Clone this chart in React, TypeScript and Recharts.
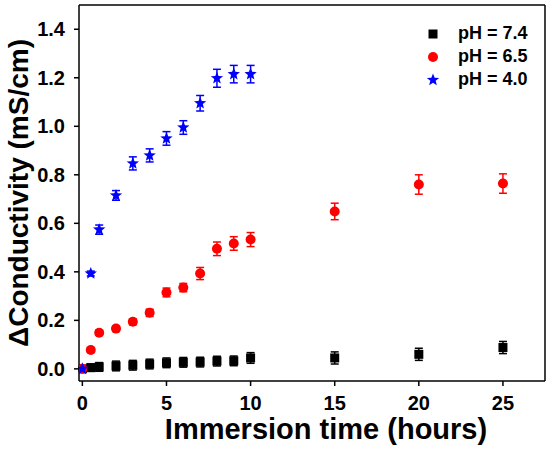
import React from 'react';
import { ScatterChart, Scatter, XAxis, YAxis, ErrorBar, Legend } from 'recharts';

const FONT = '"Liberation Sans", Arial, sans-serif';

// immersion times (hours)
const hours = [0, 0.5, 1, 2, 3, 4, 5, 6, 7, 8, 9, 10, 15, 20, 25];
const hoursAcid = [0, 0.5, 1, 2, 3, 4, 5, 6, 7, 8, 9, 10];

// delta conductivity (mS/cm) and error
const ph74 = [0, 0.005, 0.008, 0.012, 0.015, 0.02, 0.025, 0.027, 0.028, 0.032, 0.033, 0.045, 0.045, 0.06, 0.088];
const ph74Err = [0.01, 0.015, 0.018, 0.02, 0.02, 0.02, 0.02, 0.02, 0.02, 0.02, 0.02, 0.022, 0.025, 0.025, 0.025];
const ph65 = [0, 0.078, 0.149, 0.166, 0.194, 0.231, 0.315, 0.335, 0.393, 0.495, 0.517, 0.533, 0.649, 0.76, 0.764];
const ph65Err = [0.005, 0.01, 0.01, 0.01, 0.012, 0.015, 0.018, 0.017, 0.025, 0.028, 0.028, 0.029, 0.034, 0.04, 0.04];
const ph40 = [0, 0.393, 0.574, 0.715, 0.847, 0.88, 0.95, 0.995, 1.095, 1.198, 1.215, 1.215];
const ph40Err = [0.005, 0.01, 0.019, 0.02, 0.027, 0.027, 0.028, 0.028, 0.032, 0.037, 0.036, 0.036];

const xTicks = [0, 5, 10, 15, 20, 25];
const xMinorTicks = [2.5, 7.5, 12.5, 17.5, 22.5];
const yTicks = [0, 0.2, 0.4, 0.6, 0.8, 1.0, 1.2, 1.4];
const yMinorTicks = [0.1, 0.3, 0.5, 0.7, 0.9, 1.1, 1.3];
const frameMajor = [2, 4, 6, 8];
const frameMinor = [1, 3, 5, 7, 9];

const toPoints = (xs: number[], ys: number[], errs: number[]) =>
  xs.map((x, i) => ({ x, y: ys[i], err: errs[i] }));

const series = [
  { name: 'pH = 7.4', kind: 'square', color: '#000000', data: toPoints(hours, ph74, ph74Err) },
  { name: 'pH = 6.5', kind: 'circle', color: '#ff0000', data: toPoints(hours, ph65, ph65Err) },
  { name: 'pH = 4.0', kind: 'star', color: '#0000ff', data: toPoints(hoursAcid, ph40, ph40Err) },
];

const Marker = ({ kind, cx, cy, color }: { kind: string; cx: number; cy: number; color: string }) => {
  if (kind === 'square') return <rect x={cx - 4.5} y={cy - 4.5} width={9} height={9} fill={color} />;
  if (kind === 'circle') return <circle cx={cx} cy={cy} r={5} fill={color} />;
  const pts: string[] = [];
  for (let i = 0; i < 10; i++) {
    const r = i % 2 === 0 ? 6.5 : 2.8;
    const a = -Math.PI / 2 + (i * Math.PI) / 5;
    pts.push(`${cx + r * Math.cos(a)},${cy + r * Math.sin(a)}`);
  }
  return <polygon points={pts.join(' ')} fill={color} />;
};

const renderLegend = () => (
  <div style={{ fontFamily: FONT, fontWeight: 'bold', fontSize: 18, color: '#000' }}>
    {series.map((s) => (
      <div key={s.name} style={{ display: 'flex', alignItems: 'center', height: 23 }}>
        <svg width={16} height={16}>
          <Marker kind={s.kind} cx={8} cy={8} color={s.color} />
        </svg>
        <span style={{ marginLeft: 17 }}>{s.name}</span>
      </div>
    ))}
  </div>
);

const line = { stroke: '#000', strokeWidth: 1.5 };
const tickFont = { fill: '#000', fontSize: 20, fontWeight: 'bold', fontFamily: FONT };

const App = () => (
  <div style={{ position: 'absolute', left: 0, top: 0, width: 550, height: 449, background: '#fff' }}>
    <ScatterChart width={550} height={449} margin={{ top: 5, right: 5, left: 0, bottom: 0 }}>
      {/* minor ticks and the top/right frame */}
      <XAxis xAxisId="xm" type="number" domain={[-0.2, 27.5]} ticks={xMinorTicks} allowDataOverflow
        height={1} tick={false} tickSize={3} tickLine={line} axisLine={false} />
      <YAxis yAxisId="ym" type="number" domain={[-0.05, 1.5]} ticks={yMinorTicks} allowDataOverflow
        width={1} tick={false} tickSize={3} tickLine={line} axisLine={false} />
      <XAxis xAxisId="top1" orientation="top" mirror type="number" domain={[0, 10]} ticks={frameMajor}
        height={1} tick={false} tickSize={6} tickLine={line} axisLine={line} />
      <XAxis xAxisId="top2" orientation="top" mirror type="number" domain={[0, 10]} ticks={frameMinor}
        height={1} tick={false} tickSize={3} tickLine={line} axisLine={false} />
      <YAxis yAxisId="right1" orientation="right" mirror type="number" domain={[0, 10]} ticks={frameMajor}
        width={1} tick={false} tickSize={6} tickLine={line} axisLine={line} />
      <YAxis yAxisId="right2" orientation="right" mirror type="number" domain={[0, 10]} ticks={frameMinor}
        width={1} tick={false} tickSize={3} tickLine={line} axisLine={false} />

      <XAxis dataKey="x" type="number" domain={[-0.2, 27.5]} ticks={xTicks} allowDataOverflow
        height={67} tickSize={5} tickMargin={10} tick={tickFont} tickLine={line} axisLine={line}
        label={{ value: 'Immersion time (hours)', position: 'insideBottom', offset: 9, dx: 14,
          style: { fill: '#000', fontSize: 29, fontWeight: 'bold', fontFamily: FONT } }} />
      <YAxis dataKey="y" type="number" domain={[-0.05, 1.5]} ticks={yTicks} allowDataOverflow
        width={78} tickSize={5} tickMargin={9} tick={tickFont} tickLine={line} axisLine={line}
        tickFormatter={(v: number) => v.toFixed(1)}
        label={{ value: 'ΔConductivity (mS/cm)', angle: -90, position: 'insideLeft', offset: 17,
          style: { textAnchor: 'middle', fill: '#000', fontSize: 28, fontWeight: 'bold', fontFamily: FONT } }} />

      <Legend layout="vertical" align="center" verticalAlign="middle" content={renderLegend}
        wrapperStyle={{ top: 22, left: 425, width: 125, height: 70 }} />

      {series.map((s) => (
        <Scatter key={s.name} name={s.name} data={s.data} fill={s.color} isAnimationActive={false}
          shape={(p: any) => <Marker kind={s.kind} cx={p.cx} cy={p.cy} color={s.color} />}>
          <ErrorBar dataKey="err" direction="y" width={4} stroke={s.color} strokeWidth={1.5} />
        </Scatter>
      ))}
    </ScatterChart>
  </div>
);

export default App;
